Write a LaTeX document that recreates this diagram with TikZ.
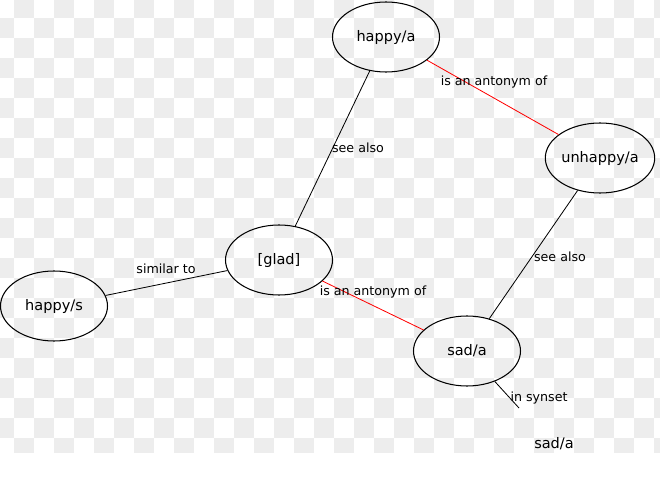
\documentclass[tikz,border=0pt]{standalone}
\usepackage{fontspec}
\setmainfont{DejaVu Sans}
\usetikzlibrary{shapes.geometric}

\begin{document}
\begin{tikzpicture}[x=0.03cm, y=-0.03cm,
  word/.style={draw, ellipse, line width=0.9pt, minimum width=3.21cm,
    minimum height=2.1cm, inner sep=0pt, font=\fontsize{12.4}{14}\selectfont},
  lemma/.style={font=\fontsize{12.4}{14}\selectfont, inner sep=0pt},
  rel/.style={line width=0.7pt},
  anto/.style={line width=0.7pt, red},
  lab/.style={font=\fontsize{10.8}{12}\selectfont, inner sep=0pt},
  tile/.style={fill=black!7},
]
  \useasboundingbox (0,0) rectangle (660,477);
  % faint checker behind the graph
  \begin{scope}
    \clip (0,0) rectangle (660,452);
    \foreach \i in {0,...,33}
      \foreach \j in {0,...,22}{
        \pgfmathtruncatemacro\odd{mod(\i+\j,2)}
        \ifnum\odd=1 \fill[tile] (-6+20*\i,-2+20*\j) rectangle ++(20,20); \fi
      }
  \end{scope}

  \node[word] (hapa)   at (386,37)  {happy/a};
  \node[word] (unhapa) at (600,158) {unhappy/a};
  \node[word] (glad)   at (279,260) {[glad]};
  \node[word] (haps)   at (54,306)  {happy/s};
  \node[word] (sada)   at (467,351) {sad/a};
  \node[lemma] (lemsad) at (554,444) {sad/a};
  \coordinate (synend) at (519,408);

  \draw[rel]  (hapa) -- (glad);
  \draw[anto] (hapa) -- (unhapa);
  \draw[rel]  (unhapa) -- (sada);
  \draw[anto] (glad) -- (sada);
  \draw[rel]  (haps) -- (glad);
  \draw[rel]  (sada) -- (synend);

  \node[lab] (lalso1) at (358,148) {see also};
  \node[lab] (lanto1) at (494,82)  {is an antonym of};
  \node[lab] (lalso2) at (560,257) {see also};
  \node[lab] (lanto2) at (373,292) {is an antonym of};
  \node[lab] (lsim)   at (166,269) {similar to};
  \node[lab] (lsyn)   at (539,398) {in synset};
\end{tikzpicture}
\end{document}
